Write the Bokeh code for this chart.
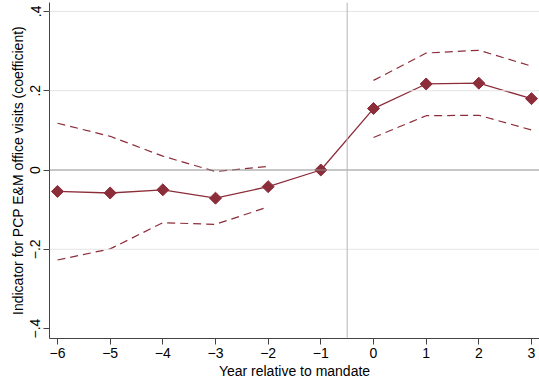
import numpy as np
from bokeh.plotting import figure
from bokeh.models import Range1d, FixedTicker, Span
from bokeh.embed import file_html
from bokeh.resources import INLINE

years = [-6, -5, -4, -3, -2, -1, 0, 1, 2, 3]
coef = [-0.054, -0.058, -0.050, -0.071, -0.042, 0.0, 0.155, 0.217, 0.219, 0.180]

pre_years = [-6, -5, -4, -3, -2]
pre_upper = [0.118, 0.085, 0.035, -0.004, 0.009]
pre_lower = [-0.227, -0.199, -0.133, -0.137, -0.093]

post_years = [0, 1, 2, 3]
post_upper = [0.226, 0.295, 0.302, 0.262]
post_lower = [0.082, 0.137, 0.138, 0.101]

x_ticks = [-6, -5, -4, -3, -2, -1, 0, 1, 2, 3]
y_ticks = [-0.4, -0.2, 0.0, 0.2, 0.4]
y_tick_labels = ["\u2212.4", "\u2212.2", "0", ".2", ".4"]
grid_levels = [-0.2, 0.2, 0.4]

COL = "#8c2d3a"
FONT = "Liberation Sans"

p = figure(width=539, height=381, output_backend="svg", toolbar_location=None,
           x_range=Range1d(-6.152, 3.152), y_range=Range1d(-0.425, 0.4225),
           min_border_left=49, min_border_right=0, min_border_top=2, min_border_bottom=40)
p.outline_line_color = None
p.xgrid.visible = False
p.ygrid.visible = False
p.background_fill_color = "white"
p.border_fill_color = "white"

for g in grid_levels:
    p.add_layout(Span(location=g, dimension="width", line_color="#e4e4e4", line_width=1))
p.add_layout(Span(location=0, dimension="width", line_color="#8f8f8f", line_width=1))
p.add_layout(Span(location=-0.5, dimension="height", line_color="#b5b5b5", line_width=1))

p.line(pre_years, pre_upper, line_color=COL, line_width=1.2, line_dash="8 5")
p.line(pre_years, pre_lower, line_color=COL, line_width=1.2, line_dash="8 5")
p.line(post_years, post_upper, line_color=COL, line_width=1.2, line_dash="8 5")
p.line(post_years, post_lower, line_color=COL, line_width=1.2, line_dash="8 5")
p.line(years, coef, line_color=COL, line_width=1.3)
p.scatter(years, coef, marker="square", angle=np.pi / 4, size=8.5,
          fill_color=COL, line_color=COL)

p.xaxis.ticker = FixedTicker(ticks=x_ticks)
p.xaxis.major_label_overrides = {t: str(t).replace("-", "\u2212") for t in x_ticks}
p.yaxis.ticker = FixedTicker(ticks=y_ticks)
p.yaxis.major_label_overrides = {t: l for t, l in zip(y_ticks, y_tick_labels)}
p.yaxis.major_label_orientation = "vertical"

p.xaxis.axis_label = "Year relative to mandate"
p.yaxis.axis_label = "Indicator for PCP E&M office visits (coefficient)"

for ax in (p.xaxis[0], p.yaxis[0]):
    ax.axis_line_color = "#444444"
    ax.axis_line_width = 1
    ax.major_tick_line_color = "#444444"
    ax.major_tick_out = 6
    ax.major_tick_in = 0
    ax.minor_tick_line_color = None
    ax.major_label_text_font = FONT
    ax.major_label_text_font_size = "14px"
    ax.major_label_text_color = "black"
    ax.axis_label_text_font = FONT
    ax.axis_label_text_font_size = "14px"
    ax.axis_label_text_font_style = "normal"
    ax.axis_label_text_color = "black"
    ax.major_label_standoff = 3
    ax.axis_label_standoff = 2

open("out.html", "w").write(file_html(p, INLINE))
